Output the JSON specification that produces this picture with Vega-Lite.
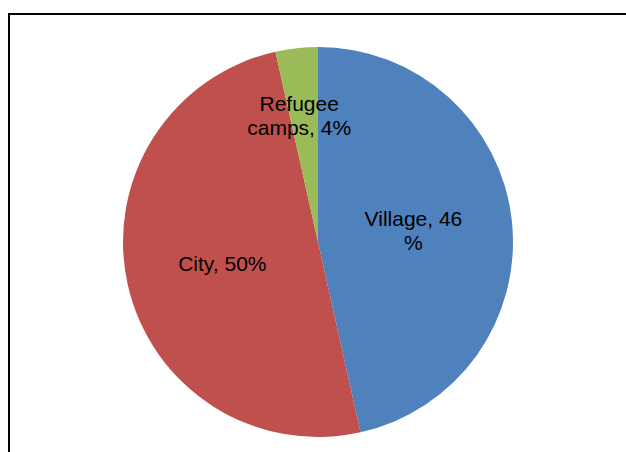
{
  "$schema": "https://vega.github.io/schema/vega-lite/v6.json",
  "width": 618,
  "height": 456,
  "autosize": {"type": "none"},
  "padding": {"left": 9, "top": 14, "right": 0, "bottom": 0},
  "background": "white",
  "config": {"view": {"stroke": null}},
  "data": {
    "values": [
      {"place": "Village", "share": 46.5, "rank": 1, "label": "Village, 46\n%"},
      {"place": "City", "share": 50, "rank": 2, "label": "City, 50%"},
      {"place": "Refugee camps", "share": 3.5, "rank": 3, "label": "Refugee\ncamps, 4%"}
    ]
  },
  "layer": [
    {
      "data": {"values": [{"frame": 1}]},
      "mark": {"type": "rect", "fill": null, "stroke": "black", "strokeWidth": 2},
      "encoding": {}
    },
    {
      "mark": {"type": "arc", "outerRadius": 195},
      "encoding": {
        "theta": {"field": "share", "type": "quantitative", "stack": true},
        "order": {"field": "rank", "type": "quantitative"},
        "color": {
          "field": "place",
          "type": "nominal",
          "scale": {"domain": ["Village", "City", "Refugee camps"], "range": ["#4F81BD", "#C0504D", "#9BBB59"]},
          "legend": null
        }
      }
    },
    {
      "mark": {"type": "text", "radius": 91, "dx": 5, "dy": -12, "font": "Liberation Sans", "fontSize": 21, "lineHeight": 24, "lineBreak": "\n", "color": "black", "align": "center", "baseline": "middle"},
      "encoding": {
        "theta": {"field": "share", "type": "quantitative", "stack": true},
        "order": {"field": "rank", "type": "quantitative"},
        "text": {"condition": {"test": "datum.place === 'Village'", "field": "label"}, "value": ""}
      }
    },
    {
      "mark": {"type": "text", "radius": 98, "dy": 2, "font": "Liberation Sans", "fontSize": 21, "lineHeight": 24, "lineBreak": "\n", "color": "black", "align": "center", "baseline": "middle"},
      "encoding": {
        "theta": {"field": "share", "type": "quantitative", "stack": true},
        "order": {"field": "rank", "type": "quantitative"},
        "text": {"condition": {"test": "datum.place === 'City'", "field": "label"}, "value": ""}
      }
    },
    {
      "mark": {"type": "text", "radius": 126, "dx": -5, "dy": -12, "font": "Liberation Sans", "fontSize": 21, "lineHeight": 24, "lineBreak": "\n", "color": "black", "align": "center", "baseline": "middle"},
      "encoding": {
        "theta": {"field": "share", "type": "quantitative", "stack": true},
        "order": {"field": "rank", "type": "quantitative"},
        "text": {"condition": {"test": "datum.place === 'Refugee camps'", "field": "label"}, "value": ""}
      }
    }
  ]
}
